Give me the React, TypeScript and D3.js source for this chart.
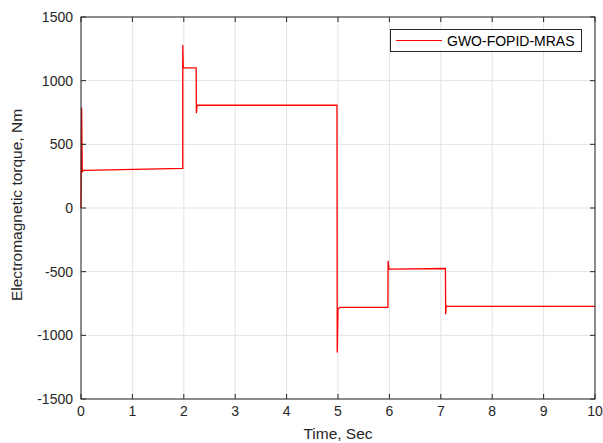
import React from "react";
import * as d3 from "d3";

const timeSec: number[] = [0, 0.012, 0.025, 0.04, 0.07, 1.98, 1.98, 1.99, 2.02, 2.24, 2.245, 2.26, 2.29, 4.98, 4.985, 5.0, 5.04, 5.97, 5.975, 5.99, 6.03, 7.09, 7.095, 7.105, 7.14, 8.5, 10];
const torque: number[] = [0, 790, 280, 295, 295, 311, 1280, 1100, 1100, 1100, 745, 807, 807, 807, -1135, -790, -781, -780, -415, -480, -480, -475, -835, -770, -773, -772, -772];

const xTicks: number[] = [0, 1, 2, 3, 4, 5, 6, 7, 8, 9, 10];
const yTicks: number[] = [-1500, -1000, -500, 0, 500, 1000, 1500];
const legendLabel = "GWO-FOPID-MRAS";
const xLabel = "Time, Sec";
const yLabel = "Electromagnetic torque, Nm";

export default function App() {
  const W = 603, H = 443;
  const L = 81, R = 595, T = 17, B = 399;
  const x = d3.scaleLinear().domain([0, 10]).range([L, R]);
  const y = d3.scaleLinear().domain([-1500, 1500]).range([B, T]);
  const line = d3
    .line<number>()
    .x((_, i) => x(timeSec[i]))
    .y((d) => y(d));
  const axisColor = "#262626";
  const font = "'Liberation Sans', Arial, Helvetica, sans-serif";
  return (
    <svg width={W} height={H} style={{ position: "absolute", left: 0, top: 0, background: "#fff" }} fontFamily={font}>
      <rect x={0} y={0} width={W} height={H} fill="#fff" />
      {xTicks.map((t) => (
        <line key={"gx" + t} x1={x(t)} x2={x(t)} y1={T} y2={B} stroke="#e3e3e3" strokeWidth={1} />
      ))}
      {yTicks.map((t) => (
        <line key={"gy" + t} x1={L} x2={R} y1={y(t)} y2={y(t)} stroke="#e3e3e3" strokeWidth={1} />
      ))}
      <path d={line(torque) || ""} fill="none" stroke="#ff0000" strokeWidth={1.3} strokeLinejoin="miter" />
      <rect x={L} y={T} width={R - L} height={B - T} fill="none" stroke={axisColor} strokeWidth={1} />
      {xTicks.map((t) => (
        <g key={"tx" + t}>
          <line x1={x(t)} x2={x(t)} y1={B} y2={B - 5} stroke={axisColor} />
          <line x1={x(t)} x2={x(t)} y1={T} y2={T + 5} stroke={axisColor} />
          <text x={x(t)} y={B + 17} textAnchor="middle" fontSize={14} fill={axisColor}>
            {t}
          </text>
        </g>
      ))}
      {yTicks.map((t) => (
        <g key={"ty" + t}>
          <line x1={L} x2={L + 5} y1={y(t)} y2={y(t)} stroke={axisColor} />
          <line x1={R} x2={R - 5} y1={y(t)} y2={y(t)} stroke={axisColor} />
          <text x={L - 8} y={y(t) + 5} textAnchor="end" fontSize={14} fill={axisColor}>
            {t}
          </text>
        </g>
      ))}
      <text x={(L + R) / 2} y={439} textAnchor="middle" fontSize={15.5} fill={axisColor}>
        {xLabel}
      </text>
      <text transform={`translate(22,${(T + B) / 2 - 3}) rotate(-90)`} textAnchor="middle" fontSize={15.5} fill={axisColor}>
        {yLabel}
      </text>
      <g>
        <rect x={390.5} y={29.5} width={191} height={22} fill="#fff" stroke={axisColor} strokeWidth={1} />
        <line x1={396} x2={442} y1={40.5} y2={40.5} stroke="#ff0000" strokeWidth={1.2} />
        <text x={447} y={45.5} fontSize={14} fill="#000">
          {legendLabel}
        </text>
      </g>
    </svg>
  );
}
